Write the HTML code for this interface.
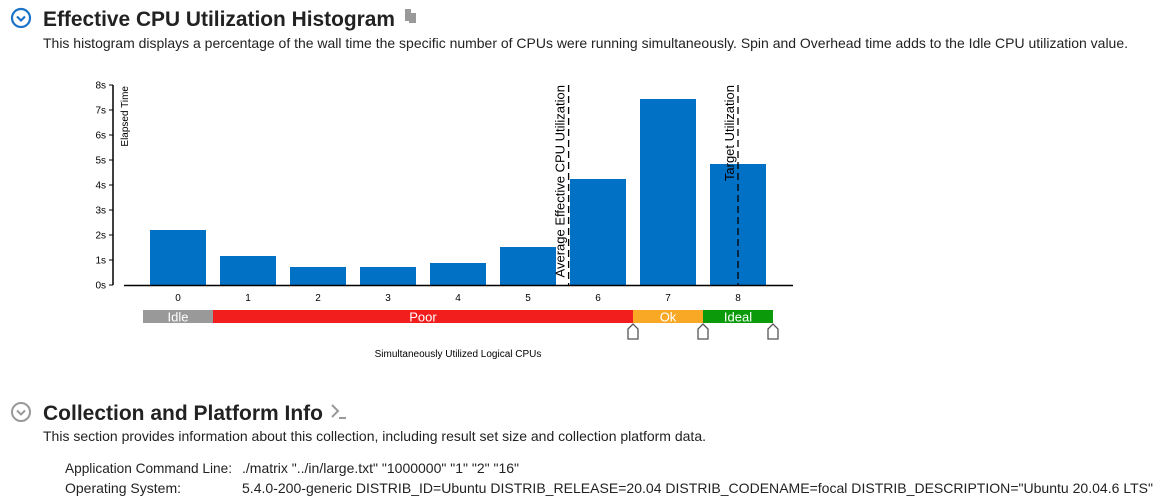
<!DOCTYPE html>
<html><head><meta charset="utf-8"><style>
html,body{margin:0;padding:0;background:#fff;width:1154px;height:497px;overflow:hidden}
svg{display:block;font-family:"Liberation Sans",Arial,sans-serif}
</style></head><body>
<svg width="1154" height="497" viewBox="0 0 1154 497">
<g>
<circle cx="21" cy="18" r="9" fill="none" stroke="#1a73c8" stroke-width="2.2"/>
<polyline points="17,16.5 21,20.5 25,16.5" fill="none" stroke="#1a73c8" stroke-width="2.2"/>
</g>
<text x="43" y="26" font-size="21" font-weight="bold" fill="#222" textLength="352" lengthAdjust="spacingAndGlyphs">Effective CPU Utilization Histogram</text>
<g fill="#999">
<rect x="405" y="9" width="6" height="12"/><rect x="409" y="13" width="7" height="10"/>
</g>
<text x="43" y="48" font-size="14" fill="#222" textLength="1085" lengthAdjust="spacingAndGlyphs">This histogram displays a percentage of the wall time the specific number of CPUs were running simultaneously. Spin and Overhead time adds to the Idle CPU utilization value.</text>

<g id="chart"></g>

<g>
<circle cx="21" cy="412" r="9" fill="none" stroke="#999" stroke-width="2"/>
<polyline points="17,410.5 21,414.5 25,410.5" fill="none" stroke="#999" stroke-width="2"/>
</g>
<text x="43" y="420" font-size="21" font-weight="bold" fill="#222" textLength="280" lengthAdjust="spacingAndGlyphs">Collection and Platform Info</text>
<g stroke="#999" stroke-width="2" fill="none">
<polyline points="332,405 338,411 332,417"/><line x1="339" y1="418" x2="346" y2="418"/>
</g>
<text x="43" y="441" font-size="14" fill="#222" textLength="663" lengthAdjust="spacingAndGlyphs">This section provides information about this collection, including result set size and collection platform data.</text>
<text x="65" y="473" font-size="14" fill="#222" textLength="167" lengthAdjust="spacingAndGlyphs">Application Command Line:</text>
<text x="242" y="473" font-size="14" fill="#222" textLength="277" lengthAdjust="spacingAndGlyphs">./matrix "../in/large.txt" "1000000" "1" "2" "16"</text>
<text x="65" y="493" font-size="14" fill="#222" textLength="116" lengthAdjust="spacingAndGlyphs">Operating System:</text>
<text x="242" y="493" font-size="14" fill="#222" textLength="911" lengthAdjust="spacingAndGlyphs">5.4.0-200-generic DISTRIB_ID=Ubuntu DISTRIB_RELEASE=20.04 DISTRIB_CODENAME=focal DISTRIB_DESCRIPTION="Ubuntu 20.04.6 LTS"</text>
</svg>
<script>
const categories = [0,1,2,3,4,5,6,7,8];
const elapsed = [2.2,1.16,0.72,0.72,0.88,1.52,4.24,7.44,4.84];
const yTicks = [0,1,2,3,4,5,6,7,8];
const yTickLabels = ["0s","1s","2s","3s","4s","5s","6s","7s","8s"];
const avgUtil = 5.58;
const targetUtil = 8;
const zoneNames = ["Idle","Poor","Ok","Ideal"];
const zoneStarts = [-0.5,0.5,6.5,7.5];
const zoneEnds = [0.5,6.5,7.5,8.5];
const zoneColors = ["#999999","#f21e1e","#f9a825","#0a9a0a"];

const NS="http://www.w3.org/2000/svg";
const g=document.getElementById('chart');
const x=v=>178+v*70;
const y=v=>285-v*25;
function mk(t,a,txt){const e=document.createElementNS(NS,t);for(const k in a)e.setAttribute(k,a[k]);if(txt!=null)e.textContent=txt;g.appendChild(e);return e;}

let ya=mk('line',{x1:113,y1:y(8),x2:113,y2:y(0),stroke:'#000','stroke-width':1.5});


yTicks.forEach((t,i)=>{
  let tk=mk('line',{x1:109,y1:y(t),x2:113,y2:y(t),stroke:'#000'});
  
  
  let l=mk('text',{x:106,y:y(t)+3.5,'font-size':10,'text-anchor':'end',fill:'#000'},yTickLabels[i]);
  
  
});
let yt=mk('text',{transform:'translate(128,86) rotate(-90)','font-size':10,'text-anchor':'end',fill:'#000'},'Elapsed Time');



categories.forEach((c,i)=>{
  let b=mk('rect',{x:x(c)-28,y:y(elapsed[i]),width:56,height:y(0)-y(elapsed[i]),fill:'#0071c5'});
  
  
  let l=mk('text',{x:x(c),y:y(0)+16,'font-size':10,'text-anchor':'middle',fill:'#000'},String(c));
  
  
});
let xa=mk('line',{x1:124,y1:285.5,x2:793,y2:285.5,stroke:'#000','stroke-width':1.5});



[[avgUtil,'Average Effective CPU Utilization','avg-utilization-line'],[targetUtil,'Target Utilization','target-utilization-line']].forEach(([v,t,n])=>{
  let ln=mk('line',{x1:x(v),y1:y(8),x2:x(v),y2:y(0),stroke:'#000','stroke-width':1.3,'stroke-dasharray':'7,4'});
  
  
  let lb=mk('text',{transform:`translate(${x(v)-4},${y(8)}) rotate(-90)`,'font-size':13,'text-anchor':'end',fill:'#000'},t);
  
  
});

zoneNames.forEach((z,i)=>{
  let r=mk('rect',{x:x(zoneStarts[i]),y:310,width:x(zoneEnds[i])-x(zoneStarts[i]),height:13,fill:zoneColors[i]});
  
  
  let t=mk('text',{x:(x(zoneStarts[i])+x(zoneEnds[i]))/2,y:321.5,'font-size':13,'text-anchor':'middle',fill:'#fff'},z);
  
  
});
[6.5,7.5,8.5].forEach(v=>{
  const cx=x(v);
  let m=mk('path',{d:`M${cx-5},339 L${cx-5},329 L${cx},324 L${cx+5},329 L${cx+5},339 Z`,fill:'#fff',stroke:'#555','stroke-width':1.3});
  
  
});
let xt=mk('text',{x:458,y:357,'font-size':10,'text-anchor':'middle',fill:'#000'},'Simultaneously Utilized Logical CPUs');


</script>
</body></html>
